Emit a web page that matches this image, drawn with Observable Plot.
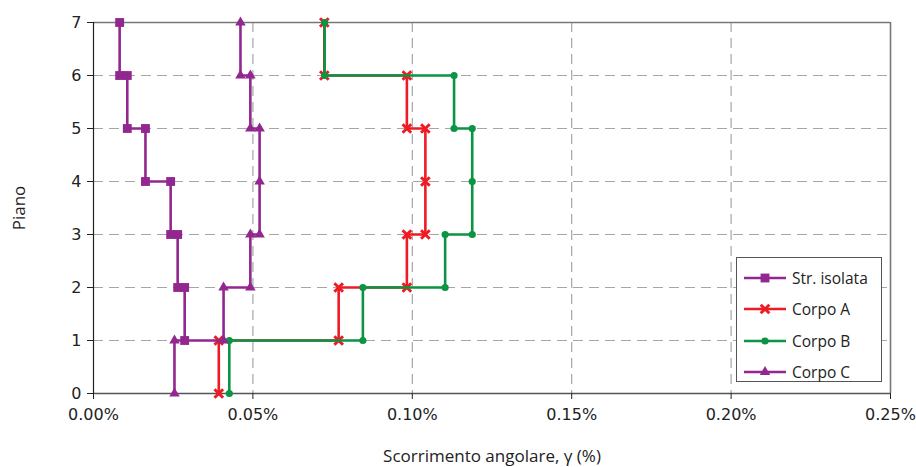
<!DOCTYPE html>
<html>
<head>
<meta charset="utf-8">
<script src="https://cdn.jsdelivr.net/npm/d3@7"></script>
<script src="https://cdn.jsdelivr.net/npm/@observablehq/plot@0.6"></script>
<style>
  html, body { margin: 0; padding: 0; background: #fff; }
  #wrap { position: relative; width: 916px; height: 467px; font-family: "Open Sans", "Noto Sans", sans-serif; }
  #legend { position: absolute; left: 736px; top: 257px; width: 146px; height: 125px; border: 1px solid #555; background: #fff; box-sizing: border-box; padding-top: 4px; }
  .row { display: flex; align-items: center; height: 31.5px; font-size: 15.5px; color: #222; }
  .row svg { margin-left: 7px; margin-right: 6px; }
</style>
</head>
<body>
<div id="wrap"></div>
<script>
// ---- data ----
const seriesNames = ["Str. isolata", "Corpo A", "Corpo B", "Corpo C"];
const seriesColors = ["#92278f", "#ed1c24", "#0b9444", "#92278f"];
const seriesSymbols = ["square", "times", "circle", "triangle"];

const isolataX = [0.0082, 0.0082, 0.0106, 0.0106, 0.0163, 0.0163, 0.0242, 0.0242, 0.0264, 0.0264, 0.0286, 0.0286];
const isolataY = [7, 6, 6, 5, 5, 4, 4, 3, 3, 2, 2, 1];

const corpoAX = [0.0393, 0.0393, 0.0769, 0.0769, 0.0983, 0.0983, 0.1041, 0.1041, 0.1041, 0.0983, 0.0983, 0.0724, 0.0724];
const corpoAY = [0, 1, 1, 2, 2, 3, 3, 4, 5, 5, 6, 6, 7];

const corpoBX = [0.0426, 0.0426, 0.0845, 0.0845, 0.1103, 0.1103, 0.1188, 0.1188, 0.1188, 0.1131, 0.1131, 0.0725, 0.0725];
const corpoBY = [0, 1, 1, 2, 2, 3, 3, 4, 5, 5, 6, 6, 7];

const corpoCX = [0.0254, 0.0254, 0.0408, 0.0408, 0.0492, 0.0492, 0.0521, 0.0521, 0.0521, 0.0492, 0.0492, 0.0461, 0.0461];
const corpoCY = [0, 1, 1, 2, 2, 3, 3, 4, 5, 5, 6, 6, 7];

const xTicks = [0, 0.05, 0.10, 0.15, 0.20, 0.25];
const yTicks = [0, 1, 2, 3, 4, 5, 6, 7];
const xLabel = "Scorrimento angolare, γ (%)";
const yLabel = "Piano";

// ---- build table ----
const allX = [isolataX, corpoAX, corpoBX, corpoCX];
const allY = [isolataY, corpoAY, corpoBY, corpoCY];
const data = [];
seriesNames.forEach((name, i) => {
  allX[i].forEach((x, j) => data.push({series: name, x, y: allY[i][j], idx: i}));
});

const symbolSizes = {"square": 5, "times": 4, "circle": 3.6, "triangle": 3.9};
const tickFont = "'DejaVu Sans', sans-serif";

const marks = [
  Plot.gridY(yTicks.filter(d => d > 0 && d < 7), {stroke: "#a6a6a6", strokeOpacity: 1, strokeDasharray: "10,6", strokeWidth: 1.2}),
  Plot.gridX(xTicks.filter(d => d > 0 && d < 0.25), {stroke: "#a6a6a6", strokeOpacity: 1, strokeDasharray: "10,6", strokeWidth: 1.2}),
  Plot.ruleY([7], {stroke: "#777", strokeWidth: 1.6}),
  Plot.ruleX([0.25], {stroke: "#777", strokeWidth: 1.6}),
  Plot.ruleY([0], {stroke: "#555", strokeWidth: 1.6}),
  Plot.ruleX([0], {stroke: "#222", strokeWidth: 1.2}),
  Plot.axisX({ticks: xTicks, tickSize: 6, text: null, label: null}),
  Plot.axisX({ticks: xTicks, tickSize: 0, tickPadding: 15, tickFormat: d => d.toFixed(2) + "%", fontSize: 16, fontFamily: tickFont, label: null}),
  Plot.axisX({ticks: [], tickSize: 0, label: xLabel, labelAnchor: "center", labelArrow: "none", labelOffset: 68, fontSize: 17}),
  Plot.axisY({ticks: yTicks, tickSize: 6, text: null, label: null}),
  Plot.axisY({ticks: yTicks, tickSize: 0, tickPadding: 12, tickFormat: d => String(d), fontSize: 16, fontFamily: tickFont, label: null}),
  Plot.axisY({ticks: [], tickSize: 0, label: yLabel, labelAnchor: "center", labelArrow: "none", labelOffset: 81, fontSize: 17}),
];

seriesNames.forEach((name, i) => {
  const sd = data.filter(d => d.idx === i);
  marks.push(Plot.line(sd, {x: "x", y: "y", stroke: seriesColors[i], strokeWidth: 2.6}));
  const sym = seriesSymbols[i];
  if (sym === "times") {
    marks.push(Plot.dot(sd, {x: "x", y: "y", symbol: "times", r: symbolSizes[sym], stroke: seriesColors[i], strokeWidth: 3}));
  } else {
    marks.push(Plot.dot(sd, {x: "x", y: "y", symbol: sym, r: symbolSizes[sym], fill: seriesColors[i], stroke: "none"}));
  }
});

const chart = Plot.plot({
  width: 916,
  height: 467,
  marginLeft: 93,
  marginRight: 26,
  marginTop: 22,
  marginBottom: 74,
  style: {fontFamily: "'Open Sans', 'Noto Sans', sans-serif", fontSize: "17px", color: "#222", background: "#fff"},
  x: {domain: [0, 0.25]},
  y: {domain: [0, 7]},
  marks
});
const wrap = document.getElementById("wrap");
wrap.appendChild(chart);

// ---- legend ----
const legend = document.createElement("div");
legend.id = "legend";
seriesNames.forEach((name, i) => {
  const row = document.createElement("div");
  row.className = "row";
  const s = d3.create("svg").attr("width", 42).attr("height", 14);
  s.append("line").attr("x1", 0).attr("x2", 42).attr("y1", 7).attr("y2", 7).attr("stroke", seriesColors[i]).attr("stroke-width", 2.6);
  const sym = seriesSymbols[i];
  const r = symbolSizes[sym];
  const typeMap = {square: d3.symbolSquare, circle: d3.symbolCircle, triangle: d3.symbolTriangle, times: d3.symbolTimes};
  const p = s.append("path").attr("transform", "translate(21,7)").attr("d", d3.symbol(typeMap[sym], Math.PI * r * r)());
  if (sym === "times") p.attr("fill", "none").attr("stroke", seriesColors[i]).attr("stroke-width", 3);
  else p.attr("fill", seriesColors[i]);
  row.appendChild(s.node());
  const t = document.createElement("span");
  t.textContent = name;
  row.appendChild(t);
  legend.appendChild(row);
});
wrap.appendChild(legend);
</script>
</body>
</html>
